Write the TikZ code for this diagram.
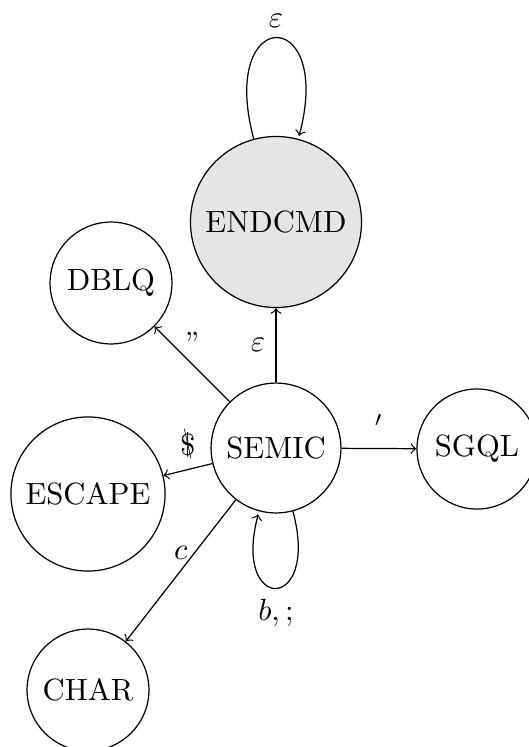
\documentclass[tikz,border=0pt]{standalone}
\usepackage{graphicx}
\newcommand{\slashdollar}{\ooalign{$\$$\cr\hidewidth\raisebox{1.5pt}{\scalebox{0.6}[0.98]{$\backslash$}}\hidewidth\cr}}
\begin{document}
\begin{tikzpicture}[x=0.3257pt,y=-0.3257pt,>=to,
  state/.style={circle,draw,inner sep=0pt},
  trans/.style={->}]
\useasboundingbox (0,0) rectangle (528,747);
\node[state,minimum size=55.7pt,fill=black!10] (ENDCMD) at (276,222) {ENDCMD};
\node[state,minimum size=42.3pt] (SEMIC) at (276,448) {SEMIC};
\node[state,minimum size=39.7pt] (DBLQ) at (111,283) {DBLQ};
\node[state,minimum size=50.2pt] (ESCAPE) at (88,494) {ESCAPE};
\node[state,minimum size=39.7pt] (CHAR) at (88,690) {CHAR};
\node[state,minimum size=39.1pt] (SGQL) at (477,449) {SGQL};
\draw[trans] (SEMIC) -- node[left] {$\varepsilon$} (ENDCMD);
\path (ENDCMD) edge[trans,loop above] node[above] {$\varepsilon$} (ENDCMD);
\path (SEMIC) edge[trans,loop below] node[below] {$b,;$} (SEMIC);
\draw[trans] (SEMIC) -- node[above] {''} (DBLQ);
\draw[trans] (SEMIC) -- node[above] {$'$} (SGQL);
\draw[trans] (SEMIC) -- node[above] {\slashdollar} (ESCAPE);
\draw[trans] (SEMIC) -- node[above] {$c$} (CHAR);
\end{tikzpicture}
\end{document}
